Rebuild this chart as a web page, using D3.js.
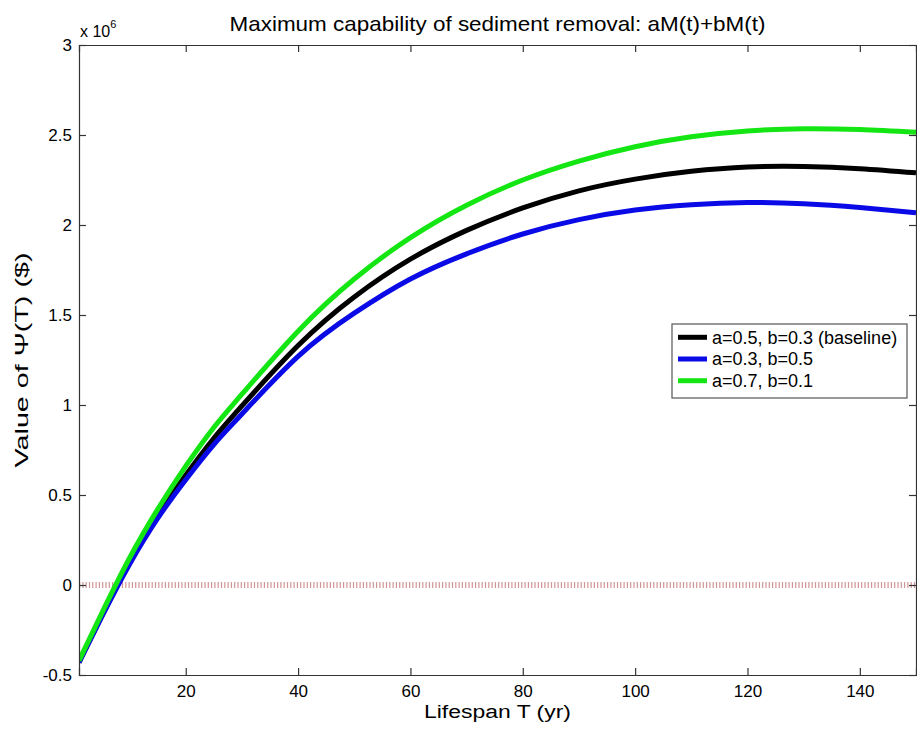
<!DOCTYPE html>
<html>
<head>
<meta charset="utf-8">
<script src="https://cdn.jsdelivr.net/npm/d3@7"></script>
<style>
  body { margin: 0; background: #fff; }
  svg text { font-family: "Liberation Sans", Arial, sans-serif; fill: #000; }
</style>
</head>
<body>
<svg id="svg" width="917" height="731"></svg>
<script>
var lifespan = [1, 5, 10, 15, 20, 25, 30, 40, 50, 60, 70, 80, 90, 100, 110, 120, 130, 140, 150];

// Psi(T) in units of 10^6 $
var baseline = [-0.43, -0.175, 0.125, 0.385, 0.61, 0.815, 0.995, 1.33, 1.60, 1.81, 1.97, 2.095, 2.19, 2.255, 2.298, 2.322, 2.325, 2.313, 2.29];
var lowA = [-0.43, -0.18, 0.115, 0.37, 0.585, 0.78, 0.95, 1.27, 1.51, 1.70, 1.84, 1.95, 2.03, 2.083, 2.113, 2.125, 2.118, 2.097, 2.068];
var highA = [-0.42, -0.16, 0.15, 0.42, 0.66, 0.875, 1.06, 1.41, 1.70, 1.93, 2.11, 2.25, 2.355, 2.435, 2.49, 2.522, 2.535, 2.53, 2.515];

var seriesNames = ['a=0.5, b=0.3 (baseline)', 'a=0.3, b=0.5', 'a=0.7, b=0.1'];
var seriesColors = ['#000000', '#0a0ae6', '#14e614'];

var xTicks = [20, 40, 60, 80, 100, 120, 140];
var yTicks = [-0.5, 0, 0.5, 1, 1.5, 2, 2.5, 3];

var chart = {};
chart.svg = d3.select('#svg');
chart.left = 79;
chart.right = 916;
chart.top = 45;
chart.bottom = 675;

var x = d3.scaleLinear().domain([1, 150]).range([chart.left, chart.right]);
var y = d3.scaleLinear().domain([-0.5, 3]).range([chart.bottom, chart.top]);

var svg = chart.svg;

svg.append('clipPath').attr('id', 'clip')
    .append('rect')
    .attr('x', chart.left).attr('y', chart.top)
    .attr('width', chart.right - chart.left).attr('height', chart.bottom - chart.top);

// zero reference line
svg.append('line')
    .attr('x1', x(1)).attr('x2', x(150))
    .attr('y1', y(0)).attr('y2', y(0))
    .attr('stroke', '#a84040')
    .attr('stroke-opacity', 0.55)
    .attr('stroke-width', 6)
    .attr('stroke-dasharray', '1.2,2.1');

// curves
var line = d3.line()
    .x(function (d) { return x(d[0]); })
    .y(function (d) { return y(d[1]); })
    .curve(d3.curveNatural);

var allSeries = [baseline, lowA, highA];
allSeries.forEach(function (values, k) {
    svg.append('path')
        .attr('clip-path', 'url(#clip)')
        .attr('d', line(lifespan.map(function (t, i) { return [t, values[i]]; })))
        .attr('fill', 'none')
        .attr('stroke', seriesColors[k])
        .attr('stroke-width', 5)
        .attr('stroke-linejoin', 'round');
});

// axes box with inward ticks
var tickLen = 7;
var bottomAxis = d3.axisBottom(x).tickValues(xTicks).tickSize(-tickLen).tickPadding(10).tickFormat(d3.format('d'));
var topAxis = d3.axisTop(x).tickValues(xTicks).tickSize(-tickLen).tickFormat('');
var leftAxis = d3.axisLeft(y).tickValues(yTicks).tickSize(-tickLen).tickPadding(7).tickFormat(function (d) { return String(d); });
var rightAxis = d3.axisRight(y).tickValues(yTicks).tickSize(-tickLen).tickFormat('');

function styleAxis(g) {
    g.select('.domain').attr('stroke', '#333').attr('stroke-width', 1.2);
    g.selectAll('.tick line').attr('stroke', '#333').attr('stroke-width', 1.2);
    g.selectAll('.tick text').attr('font-size', 17).attr('fill', '#000');
}

svg.append('g').attr('transform', 'translate(0,' + chart.bottom + ')').call(bottomAxis).call(styleAxis);
svg.append('g').attr('transform', 'translate(0,' + chart.top + ')').call(topAxis).call(styleAxis);
svg.append('g').attr('transform', 'translate(' + chart.left + ',0)').call(leftAxis).call(styleAxis);
svg.append('g').attr('transform', 'translate(' + chart.right + ',0)').call(rightAxis).call(styleAxis);

// exponent label
var expo = svg.append('text').attr('x', 80).attr('y', 37).attr('font-size', 16);
expo.append('tspan').text('x 10');
expo.append('tspan').attr('dy', -9).attr('font-size', 11).text('6');

// title
svg.append('text')
    .attr('x', (chart.left + chart.right) / 2).attr('y', 31)
    .attr('text-anchor', 'middle')
    .attr('font-size', 21)
    .attr('textLength', 536).attr('lengthAdjust', 'spacingAndGlyphs')
    .text('Maximum capability of sediment removal: aM(t)+bM(t)');

// axis labels
svg.append('text')
    .attr('x', (chart.left + chart.right) / 2).attr('y', 718)
    .attr('text-anchor', 'middle')
    .attr('font-size', 18)
    .attr('textLength', 147).attr('lengthAdjust', 'spacingAndGlyphs')
    .text('Lifespan T (yr)');

svg.append('text')
    .attr('transform', 'translate(28,' + ((chart.top + chart.bottom) / 2) + ') rotate(-90)')
    .attr('text-anchor', 'middle')
    .attr('font-size', 18)
    .attr('textLength', 215).attr('lengthAdjust', 'spacingAndGlyphs')
    .text('Value of  \u03A8(T) ($)');

// legend
var legend = {x: 672, y: 324, w: 235, h: 74, row: 21.7};
var lg = svg.append('g');
lg.append('rect')
    .attr('x', legend.x).attr('y', legend.y)
    .attr('width', legend.w).attr('height', legend.h)
    .attr('fill', '#fff').attr('stroke', '#555').attr('stroke-width', 1.2);

seriesNames.forEach(function (name, i) {
    var cy = legend.y + 13.3 + i * legend.row;
    lg.append('line')
        .attr('x1', legend.x + 6).attr('x2', legend.x + 35)
        .attr('y1', cy).attr('y2', cy)
        .attr('stroke', seriesColors[i]).attr('stroke-width', 5);
    lg.append('text')
        .attr('x', legend.x + 40).attr('y', cy).attr('dy', '0.35em')
        .attr('font-size', 18)
        .text(name);
});
</script>
</body>
</html>
